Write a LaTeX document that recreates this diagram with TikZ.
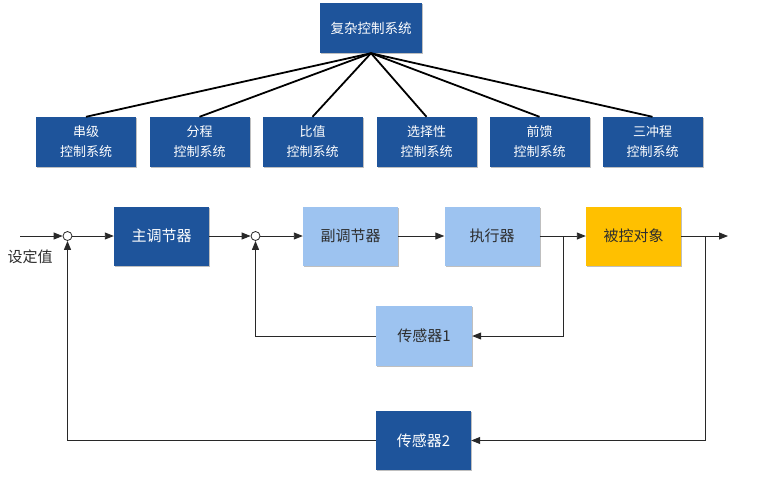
\documentclass[tikz,border=0pt]{standalone}
\usepackage{fontspec}
\newfontfamily\cjk{Noto Sans CJK SC}
\usetikzlibrary{arrows.meta,shadows}
\definecolor{dblue}{RGB}{30,84,155}
\definecolor{lblue}{RGB}{157,195,240}
\definecolor{yel}{RGB}{255,192,0}
\definecolor{txt}{RGB}{45,45,45}
\definecolor{ln}{RGB}{40,40,40}
\begin{document}
\begin{tikzpicture}[x=1pt,y=-1pt,
  boxbase/.style={rectangle, inner sep=0pt, align=center,
    drop shadow={shadow xshift=1.2pt, shadow yshift=-1.2pt, opacity=0.25, fill=black}},
  dbox/.style={boxbase, fill=dblue, text=white},
  lbox/.style={boxbase, fill=lblue, text=txt},
  ybox/.style={boxbase, fill=yel, text=txt},
  topsz/.style={minimum width=102pt, minimum height=50pt, font=\cjk\fontsize{13.5}{19}\selectfont},
  kidsz/.style={minimum width=100pt, minimum height=50pt, font=\cjk\fontsize{13}{20}\selectfont},
  rowsz/.style={minimum width=95pt, minimum height=59pt, font=\cjk\fontsize{15}{18}\selectfont},
  tree/.style={line width=1.8pt, black},
  arr/.style={line width=0.9pt, ln, -{Triangle[length=9pt,width=7pt]}},
  fb/.style={line width=0.9pt, ln},
  sumc/.style={circle, draw=ln, line width=0.8pt, fill=white, minimum size=9pt, inner sep=0pt}
]
\useasboundingbox[fill=white] (0,0) rectangle (757,499);

% tree
\node[dbox, topsz] (top) at (371,28) {复杂控制系统};
\node[dbox, kidsz] (k1) at (86,142) {串级\\控制系统};
\node[dbox, kidsz] (k2) at (199.5,142) {分程\\控制系统};
\node[dbox, kidsz] (k3) at (312.5,142) {比值\\控制系统};
\node[dbox, kidsz] (k4) at (426.5,142) {选择性\\控制系统};
\node[dbox, kidsz] (k5) at (539.5,142) {前馈\\控制系统};
\node[dbox, kidsz] (k6) at (652.5,142) {三冲程\\控制系统};
\foreach \k in {k1,k2,k3,k4,k5,k6}
  \draw[tree] (top.south) -- (\k.north);

% loop
\coordinate (in) at (20,236);
\coordinate (out) at (728,236);
\node[sumc] (c1) at (67.5,236) {};
\node[sumc] (c2) at (255.5,236) {};
\node[dbox, rowsz] (zt) at (161.5,236) {主调节器};
\node[lbox, rowsz] (ft) at (350.5,236) {副调节器};
\node[lbox, rowsz] (zx) at (492,236) {执行器};
\node[ybox, rowsz] (bk) at (633.5,236) {被控对象};
\node[lbox, rowsz, minimum width=96pt, minimum height=60pt] (s1) at (424,336) {传感器1};
\node[dbox, rowsz] (s2) at (423.5,440.5) {传感器2};
\node[font=\cjk\fontsize{15}{18}\selectfont, text=txt] (sv) at (30,257) {设定值};
\coordinate (b1) at (563,236);
\coordinate (b2) at (705,236);

\draw[arr] (in) -- (c1);
\draw[arr] (c1) -- (zt);
\draw[arr] (zt) -- (c2);
\draw[arr] (c2) -- (ft);
\draw[arr] (ft) -- (zx);
\draw[arr] (zx) -- (bk);
\draw[arr] (bk) -- (out);
\draw[arr] (b1) |- (s1.east);
\draw[arr] (s1.west) -| (c2.south);
\draw[arr] (b2) |- (s2.east);
\draw[arr] (s2.west) -| (c1.south);
\end{tikzpicture}
\end{document}
